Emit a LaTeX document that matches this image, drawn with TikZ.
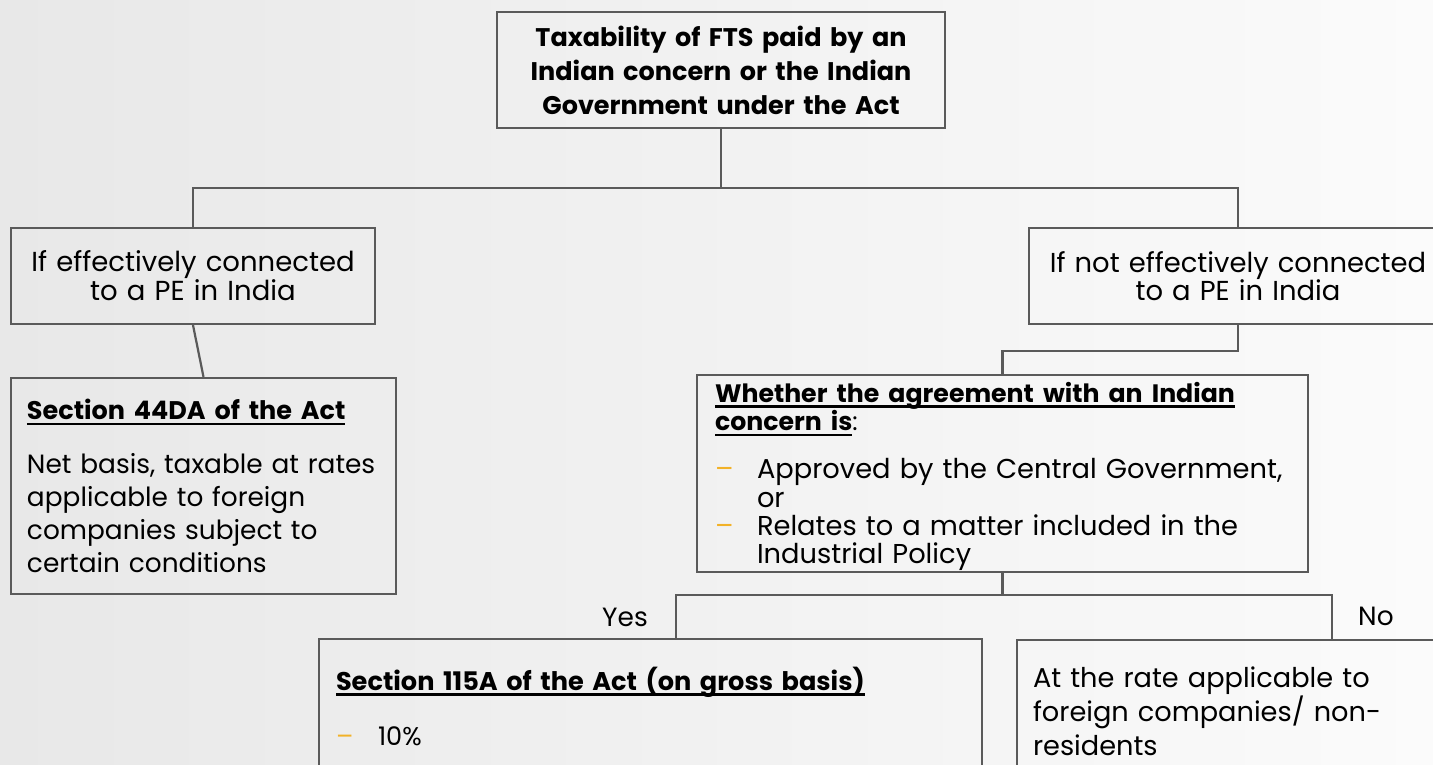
\documentclass[tikz,border=0pt]{standalone}
\usepackage{fontspec}
\setmainfont{Poppins}
\usepackage{tikz}
\usetikzlibrary{calc}
\usetikzlibrary{positioning}
\definecolor{linegray}{RGB}{90, 90, 90}
\definecolor{bgleft}{RGB}{232, 232, 232}
\definecolor{bgright}{RGB}{251, 251, 251}
\definecolor{bulletgold}{RGB}{242, 178, 40}
\newcommand{\uln}[1]{\leavevmode\setbox0\hbox{#1}\rlap{\rule[-5.5pt]{\wd0}{2.4pt}}\box0}
\newcommand{\bul}{\makebox[42pt][l]{\textcolor{bulletgold}{--}}}
\newcommand{\hang}{\hspace*{42pt}}
\tikzset{
  taxbox/.style={draw=linegray, line width=2.2pt, inner ysep=0pt},
  conn/.style={draw=linegray, line width=2.2pt},
  lbl/.style={inner sep=0pt, font=\fontsize{26.4}{28}\selectfont}
}

\begin{document}
\begin{tikzpicture}[x=1pt, y=1pt]
            \useasboundingbox (0,0) rectangle (1433,765);
            \clip (0,0) rectangle (1433,765);
            \shade[left color=bgleft, right color=bgright] (0,0) rectangle (1433,765);
            \node[taxbox, inner xsep=14pt, text width=420pt, minimum height=116pt, align=center,
                 font=\fontsize{25.5}{34}\selectfont\bfseries] (top) at (721,695)
                 {Taxability of FTS paid by an\\Indian concern or the Indian\\Government under the Act};
            \node[taxbox, inner xsep=14pt, text width=336pt, minimum height=96pt, align=center,
                 font=\fontsize{27.5}{28}\selectfont] (leftA) at (193,489)
                 {If effectively connected\\to a PE in India};
            \node[taxbox, inner xsep=14pt, text width=390pt, minimum height=96pt, align=center,
                 font=\fontsize{27.4}{28}\selectfont] (rightA) at (1238,489)
                 {\mbox{If not effectively connected}\\to a PE in India};
            \node[taxbox, inner xsep=16pt, text width=353pt, minimum height=216pt, align=left,
                 font=\fontsize{26.4}{33}\selectfont] (sec44) at (203.5,279)
                 {\uln{\fontsize{25.5}{33}\selectfont\bfseries Section 44DA of the Act}\\[21pt]
                  \mbox{Net basis, taxable at rates}\\applicable to foreign\\companies subject to\\certain conditions};
            \node[taxbox, inner xsep=18pt, text width=575pt, minimum height=197pt, align=left,
                 font=\fontsize{27.3}{28.3}\selectfont] (whether) at (1002.5,291.5)
                 {{\fontsize{25.2}{28}\selectfont\rule{0pt}{26pt}\uln{\bfseries Whether the agreement with an Indian}\\\uln{\bfseries concern is}:}\\[20pt]
                  \mbox{\bul Approved by the Central Government,}\\\hang or\\
                  \mbox{\bul Relates to a matter included in the}\\\hang Industrial Policy};
            \node[taxbox, inner xsep=17pt, text width=629pt, minimum height=140pt, align=left,
                 font=\fontsize{25.6}{33}\selectfont] (sec115) at (650.5,56)
                 {\uln{\bfseries Section 115A of the Act (on gross basis)}\\[22pt]
                  \bul 10\%\rule[-6pt]{0pt}{6pt}};
            \node[taxbox, inner xsep=16pt, text width=411pt, minimum height=142pt, align=left,
                 font=\fontsize{27.2}{34}\selectfont] (atrate) at (1238.5,54)
                 {At the rate applicable to\\foreign companies/ non-\\residents};
            \node[lbl, anchor=base east] (yes) at (648,138) {Yes};
            \node[lbl, anchor=base west] (no) at (1358,139) {No};
            \coordinate (split) at (721,577);
            \coordinate (yesdrop) at (676,170);
            \coordinate (nodrop) at (1332,170);
            \draw[conn] (top.south) -- (split);
            \draw[conn] (leftA.north) |- (split) -| (rightA.north);
            \draw[conn] (leftA.south) -- (sec44.north);
            \draw[conn] (rightA.south) -- ++(0,-26) -| (whether.north);
            \draw[conn] (whether.south) -- (whether.south |- yesdrop);
            \draw[conn] (yesdrop |- sec115.north) -- (yesdrop) -- (nodrop) -- (nodrop |- atrate.north);
        \end{tikzpicture}
\end{document}
